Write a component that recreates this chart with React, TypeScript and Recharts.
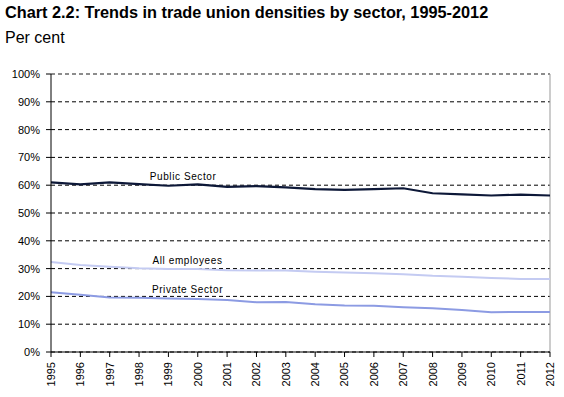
import React from 'react';
import {
  LineChart,
  Line,
  XAxis,
  YAxis,
  CartesianGrid,
  ReferenceLine,
  ReferenceDot
} from 'recharts';

const years = [1995, 1996, 1997, 1998, 1999, 2000, 2001, 2002, 2003, 2004, 2005, 2006, 2007, 2008, 2009, 2010, 2011, 2012];
const publicSector = [61.0, 60.3, 61.0, 60.4, 59.8, 60.3, 59.4, 59.7, 59.2, 58.6, 58.3, 58.6, 58.9, 57.1, 56.7, 56.3, 56.6, 56.3];
const allEmployees = [32.4, 31.3, 30.7, 30.1, 29.9, 29.9, 29.4, 29.3, 29.3, 28.9, 28.6, 28.3, 28.0, 27.4, 27.1, 26.6, 26.3, 26.3];
const privateSector = [21.5, 20.6, 19.6, 19.5, 19.2, 19.1, 18.7, 17.9, 18.0, 17.2, 16.7, 16.6, 16.1, 15.7, 15.1, 14.3, 14.4, 14.4];
const yTicks = [0, 10, 20, 30, 40, 50, 60, 70, 80, 90, 100];

const data = years.map((y, i) => ({
  year: y,
  pub: publicSector[i],
  all: allEmployees[i],
  priv: privateSector[i]
}));

const FONT = '"Liberation Sans", Arial, sans-serif';

const YearTick = (props: any) => {
  const { x, y, payload } = props;
  return (
    <text
      transform={`translate(${x},${y + 3}) rotate(-90)`}
      textAnchor="end"
      dy="0.36em"
      fontSize={11}
      fontFamily={FONT}
      fill="#000"
    >
      {payload.value}
    </text>
  );
};

const lineLabel = (text: string) => ({
  value: text,
  position: 'center' as const,
  fontSize: 10,
  fontFamily: FONT,
  fill: '#000',
  letterSpacing: 0.6
});

export default function App() {
  return (
    <div style={{ position: 'absolute', left: 0, top: 0, width: 564, height: 397, background: '#fff', fontFamily: FONT }}>
      <div style={{ position: 'absolute', left: 5, top: 3, fontSize: 16.3, fontWeight: 'bold', whiteSpace: 'nowrap' }}>
        Chart 2.2: Trends in trade union densities by sector, 1995-2012
      </div>
      <div style={{ position: 'absolute', left: 5, top: 29, fontSize: 16, whiteSpace: 'nowrap' }}>
        Per cent
      </div>
      <div style={{ position: 'absolute', left: 0, top: 0 }}>
        <LineChart width={564} height={397} data={data} margin={{ top: 74, right: 14, left: 0, bottom: 0 }}>
          <CartesianGrid horizontal vertical={false} stroke="#000" strokeDasharray="4 3" strokeWidth={1} />
          <ReferenceLine y={100} stroke="#999" strokeDasharray="4 3" />
          <ReferenceLine x={2012} stroke="#999" />
          <XAxis
            dataKey="year"
            type="number"
            domain={[1995, 2012]}
            ticks={years}
            interval={0}
            stroke="#000"
            tickSize={5}
            tick={<YearTick />}
            height={45}
          />
          <YAxis
            domain={[0, 100]}
            ticks={yTicks}
            interval={0}
            width={51}
            stroke="#000"
            tickSize={5}
            tickMargin={6}
            tickFormatter={(v: number) => `${v}%`}
            tick={{ fontSize: 11, fill: '#000', fontFamily: FONT }}
          />
          <Line type="linear" dataKey="all" stroke="#c4cbf2" strokeWidth={2} dot={false} isAnimationActive={false} />
          <Line type="linear" dataKey="priv" stroke="#8c9be3" strokeWidth={2} dot={false} isAnimationActive={false} />
          <Line type="linear" dataKey="pub" stroke="#0d1838" strokeWidth={2.2} dot={false} isAnimationActive={false} />
          <ReferenceDot x={1999.5} y={63} r={0} stroke="none" fill="none" label={lineLabel('Public Sector')} />
          <ReferenceDot x={1999.65} y={33.1} r={0} stroke="none" fill="none" label={lineLabel('All employees')} />
          <ReferenceDot x={1999.65} y={22.6} r={0} stroke="none" fill="none" label={lineLabel('Private Sector')} />
        </LineChart>
      </div>
    </div>
  );
}
